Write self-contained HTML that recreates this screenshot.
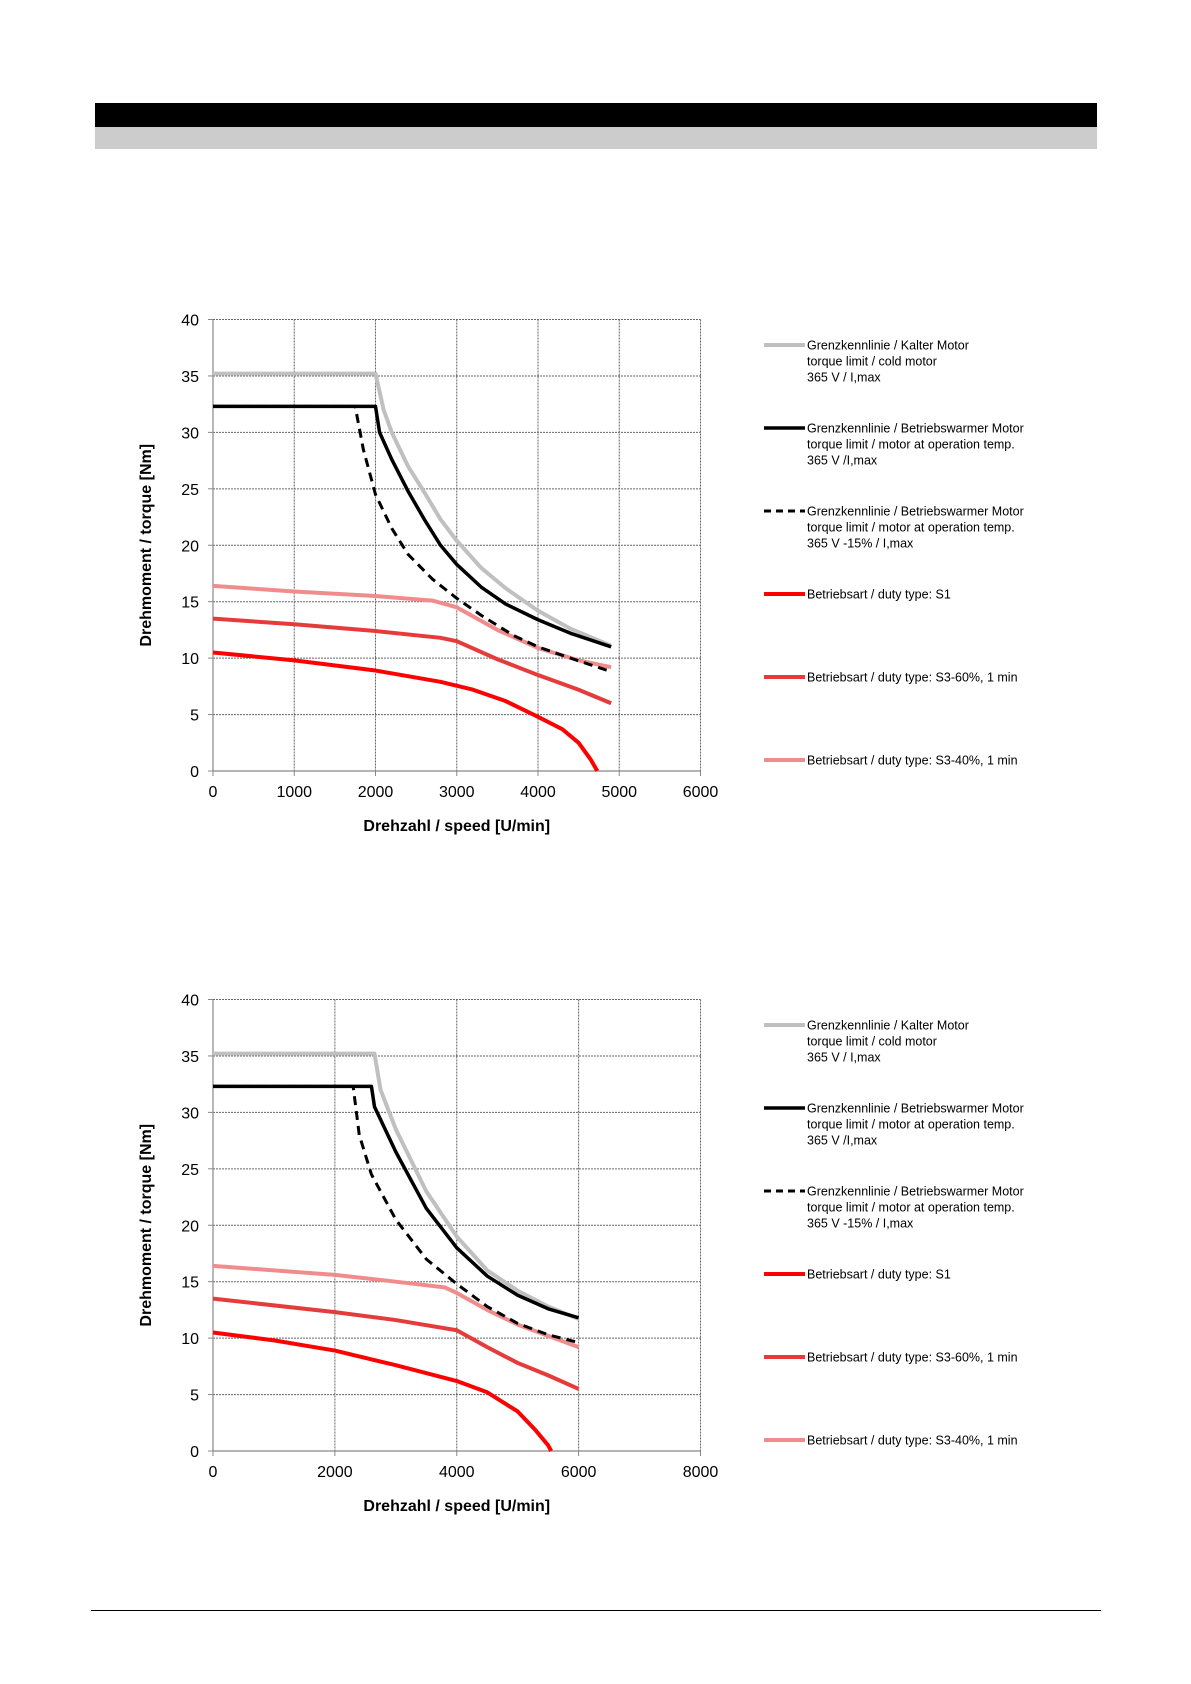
<!DOCTYPE html>
<html><head><meta charset="utf-8"><style>
html,body{margin:0;padding:0;background:#fff;}
body{width:1191px;height:1684px;position:relative;overflow:hidden;font-family:"Liberation Sans",sans-serif;}
svg text{font-family:"Liberation Sans",sans-serif;}
</style></head><body>
<div style="position:absolute;left:95px;top:103px;width:1002px;height:24px;background:#000"></div>
<div style="position:absolute;left:95px;top:127px;width:1002px;height:22px;background:#cccccc"></div>
<div style="position:absolute;left:91px;top:1610px;width:1010px;height:1px;background:#000"></div>
<svg id="svg" width="1191" height="1684" style="position:absolute;left:0;top:0"></svg>
<script>
// Chart 1 data
const c1XTicks = [0,1000,2000,3000,4000,5000,6000];
const c1YTicks = [0,5,10,15,20,25,30,35,40];
const c1ColdX = [0,2000,2100,2200,2400,2600,2800,3000,3300,3600,4000,4400,4900];
const c1ColdY = [35.2,35.2,32,30,27,24.7,22.3,20.4,18,16.2,14.2,12.6,11.1];
const c1WarmX = [0,2000,2050,2200,2400,2600,2800,3000,3300,3600,4000,4400,4900];
const c1WarmY = [32.3,32.3,30,27.6,24.8,22.3,20,18.3,16.3,14.8,13.4,12.2,11.0];
const c1DashX = [0,1750,1850,2000,2200,2400,2700,3000,3300,3700,4000,4400,4900];
const c1DashY = [32.3,32.3,28.5,24.5,21.5,19.2,17,15.3,13.8,12,11,10,8.8];
const c1S340X = [0,1000,2000,2700,3000,3500,4000,4500,4900];
const c1S340Y = [16.4,15.9,15.5,15.1,14.5,12.5,10.9,9.8,9.2];
const c1S360X = [0,1000,2000,2800,3000,3500,4000,4500,4900];
const c1S360Y = [13.5,13,12.4,11.8,11.5,9.9,8.5,7.2,6.0];
const c1S1X = [0,1000,2000,2800,3200,3600,4000,4300,4500,4650,4730];
const c1S1Y = [10.5,9.8,8.9,7.9,7.2,6.2,4.8,3.7,2.5,1,0];
// Chart 2 data
const c2XTicks = [0,2000,4000,6000,8000];
const c2YTicks = [0,5,10,15,20,25,30,35,40];
const c2ColdX = [0,2650,2750,3000,3500,4000,4500,5000,5500,6000];
const c2ColdY = [35.2,35.2,32,28.5,23,19,16,14.2,12.8,11.7];
const c2WarmX = [0,2600,2650,3000,3500,4000,4500,5000,5500,6000];
const c2WarmY = [32.3,32.3,30.5,26.5,21.5,18,15.5,13.8,12.6,11.8];
const c2DashX = [0,2300,2400,2600,3000,3500,4000,4500,5000,5500,6000];
const c2DashY = [32.3,32.3,28,24.5,20.5,17,14.8,12.8,11.3,10.3,9.6];
const c2S340X = [0,2000,3000,3800,4000,4500,5000,5500,6000];
const c2S340Y = [16.4,15.6,15.0,14.5,14.0,12.5,11.2,10.2,9.2];
const c2S360X = [0,2000,3000,4000,4500,5000,5500,6000];
const c2S360Y = [13.5,12.3,11.6,10.7,9.2,7.8,6.7,5.5];
const c2S1X = [0,1000,2000,3000,4000,4500,5000,5300,5500,5550];
const c2S1Y = [10.5,9.8,8.9,7.6,6.2,5.2,3.5,1.8,0.5,0];

const legendLabels = [
 ["Grenzkennlinie / Kalter Motor","torque limit / cold  motor","365 V / I,max"],
 ["Grenzkennlinie / Betriebswarmer Motor","torque limit / motor at operation temp.","365 V /I,max"],
 ["Grenzkennlinie / Betriebswarmer Motor","torque limit / motor at operation temp.","365 V  -15% / I,max"],
 ["Betriebsart / duty type: S1"],
 ["Betriebsart / duty type: S3-60%, 1 min"],
 ["Betriebsart / duty type: S3-40%, 1 min"]
];
const NS="http://www.w3.org/2000/svg";
const svg=document.getElementById('svg');
function mk(tag,attrs,parent){const e=document.createElementNS(NS,tag);for(const k in attrs)e.setAttribute(k,attrs[k]);(parent||svg).appendChild(e);return e;}
const styles=[
 {stroke:"#c0c0c0",w:4,dash:null},
 {stroke:"#000",w:3.5,dash:null},
 {stroke:"#000",w:3,dash:"9 6"},
 {stroke:"#ff0000",w:4,dash:null},
 {stroke:"#e63b3b",w:4,dash:null},
 {stroke:"#f08c8c",w:4,dash:null}
];
function chart(id,top,xMax,xTicks,yTicks,series,legendY){
 const g=mk('g',{});
 
 
 const L=213,R=700.5,T=top,B=top+451.5;
 const xs=v=>L+(R-L)*v/xMax, ys=v=>B-(B-T)*v/40;
 yTicks.forEach(v=>{
  if(v>0){const l=mk('line',{x1:L,x2:R,y1:ys(v),y2:ys(v),stroke:"#666","stroke-width":1,"stroke-dasharray":"2 1"},g);
  }
  const t=mk('text',{x:L-14,y:ys(v)+6,"text-anchor":"end","font-size":16,fill:"#000"},g);t.textContent=v;
  
  mk('line',{x1:L-5,x2:L,y1:ys(v),y2:ys(v),stroke:"#888"},g);
 });
 xTicks.forEach(v=>{
  if(v>0){const l=mk('line',{x1:xs(v),x2:xs(v),y1:T,y2:B,stroke:"#666","stroke-width":1,"stroke-dasharray":"2 1"},g);
  }
  const t=mk('text',{x:xs(v),y:B+26,"text-anchor":"middle","font-size":16,fill:"#000"},g);t.textContent=v;
  
  mk('line',{x1:xs(v),x2:xs(v),y1:B,y2:B+5,stroke:"#888"},g);
 });
 mk('line',{x1:L,x2:L,y1:T,y2:B,stroke:"#888","stroke-width":1.2},g);
 mk('line',{x1:L,x2:R,y1:B,y2:B,stroke:"#888","stroke-width":1.2},g);
 const xt=mk('text',{x:(L+R)/2,y:B+60,"text-anchor":"middle","font-size":16,"font-weight":"bold"},g);xt.textContent="Drehzahl / speed [U/min]";
 
 const yt=mk('text',{x:0,y:0,"text-anchor":"middle","font-size":16,"font-weight":"bold",transform:`translate(151,${(T+B)/2}) rotate(-90)`},g);yt.textContent="Drehmoment / torque [Nm]";
 
 const names=['cold-motor-line','warm-motor-line','warm-motor-minus15-line','s1-line','s3-60-line','s3-40-line'];
 const order=[5,4,3,2,0,1];
 order.forEach(i=>{
  const [X,Y]=series[i],s=styles[i];
  const p=mk('polyline',{points:X.map((x,k)=>xs(x)+","+ys(Y[k])).join(" "),fill:"none",stroke:s.stroke,"stroke-width":s.w,"stroke-linejoin":"round"},g);
  if(s.dash)p.setAttribute('stroke-dasharray',s.dash);
  
  
 });
 legendLabels.forEach((lines,i)=>{
  const y=legendY+i*83, s=styles[i];
  const ln=mk('line',{x1:764,x2:805,y1:y,y2:y,stroke:s.stroke,"stroke-width":s.w},g);
  if(s.dash)ln.setAttribute('stroke-dasharray','7 5');
  
  lines.forEach((tx,k)=>{
   const t=mk('text',{x:807,y:y+4.5+k*16,"font-size":12.5,fill:"#000"},g);t.textContent=tx;
   
  });
 });
}
chart('torque-chart-1',319.5,6000,c1XTicks,c1YTicks,[[c1ColdX,c1ColdY],[c1WarmX,c1WarmY],[c1DashX,c1DashY],[c1S1X,c1S1Y],[c1S360X,c1S360Y],[c1S340X,c1S340Y]],345);
chart('torque-chart-2',999.5,8000,c2XTicks,c2YTicks,[[c2ColdX,c2ColdY],[c2WarmX,c2WarmY],[c2DashX,c2DashY],[c2S1X,c2S1Y],[c2S360X,c2S360Y],[c2S340X,c2S340Y]],1025);
</script>
</body></html>
